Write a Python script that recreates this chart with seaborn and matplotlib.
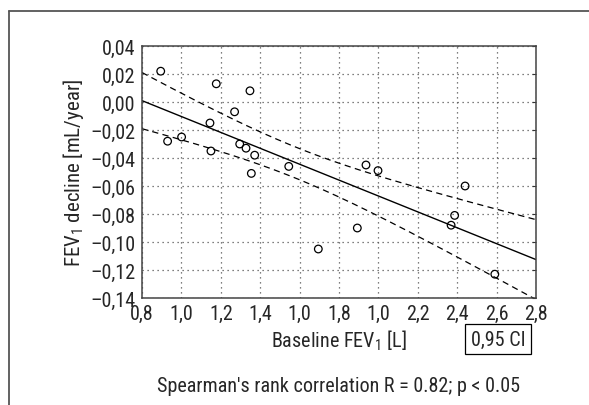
import numpy as np
import pandas as pd
import matplotlib
matplotlib.use("Agg")
import matplotlib.pyplot as plt
import seaborn as sns
from matplotlib.lines import Line2D
from matplotlib import font_manager

# data
baseline_fev1 = [0.895, 0.930, 1.001, 1.177, 1.145, 1.150, 1.270, 1.348, 1.296, 1.328, 1.372,
                 1.355, 1.545, 1.937, 1.998, 2.440, 2.387, 2.369, 1.893, 1.695, 2.591]
fev1_decline = [0.022, -0.028, -0.025, 0.013, -0.015, -0.035, -0.007, 0.008, -0.030, -0.033, -0.038,
                -0.051, -0.046, -0.045, -0.049, -0.060, -0.081, -0.088, -0.090, -0.105, -0.123]

x_ticks = [0.8, 1.0, 1.2, 1.4, 1.6, 1.8, 2.0, 2.2, 2.4, 2.6, 2.8]
x_ticklabels = ["0,8", "1,0", "1,2", "1,4", "1,0", "1,8", "1,0", "2,2", "2,4", "2,6", "2,8"]
y_ticks = [0.04, 0.02, 0.00, -0.02, -0.04, -0.06, -0.08, -0.10, -0.12, -0.14]
y_ticklabels = ["0,04", "0,02", "0,00", "\u20130,02", "\u20130,04", "\u20130,06", "\u20130,08",
                "\u20130,10", "\u20130,12", "\u20130,14"]

df = pd.DataFrame({"baseline": baseline_fev1, "decline": fev1_decline})

# linear fit + 95% confidence band of the mean
x = df["baseline"].values
y = df["decline"].values
slope, icpt = np.polyfit(x, y, 1)
n = len(x)
resid = y - (icpt + slope * x)
s = np.sqrt((resid ** 2).sum() / (n - 2))
sxx = ((x - x.mean()) ** 2).sum()
t_crit = 2.093  # t(0.975, df=19)
xs = np.linspace(0.8, 2.8, 200)
fit = icpt + slope * xs
half = t_crit * s * np.sqrt(1 / n + (xs - x.mean()) ** 2 / sxx)
band = pd.DataFrame({"x": xs, "fit": fit, "lo": fit - half, "hi": fit + half})

sns.set_style("white")

# pick a condensed face if one is installed, otherwise plain DejaVu Sans
fam, stretch, scale = "DejaVu Sans", "normal", 0.85
names = {f.name for f in font_manager.fontManager.ttflist}
cond_files = [f for f in font_manager.fontManager.ttflist
              if "condensed" in f.fname.lower() or "narrow" in f.fname.lower()]
for cand in ["Liberation Sans Narrow", "Roboto Condensed", "Open Sans Condensed"]:
    if cand in names:
        fam, scale = cand, 1.0
        break
else:
    for f in cond_files:
        if f.name in ("DejaVu Sans", "Roboto", "Open Sans", "Noto Sans", "Liberation Sans") \
                and f.weight in (400, "normal", "regular") and f.style == "normal":
            fam, stretch, scale = f.name, "condensed", 1.0
            break
plt.rcParams["font.family"] = [fam, "DejaVu Sans"]
plt.rcParams["font.stretch"] = stretch
plt.rcParams["mathtext.fontset"] = "custom"
plt.rcParams["mathtext.rm"] = fam
plt.rcParams["mathtext.it"] = fam

fs = 14.5 * scale

fig = plt.figure(figsize=(5.89, 4.06), dpi=100)
ax = fig.add_axes([142 / 589, 1 - 299 / 406, 394 / 589, 252 / 406])

sns.lineplot(data=band, x="x", y="fit", color="black", lw=1.0, ax=ax)
sns.lineplot(data=band, x="x", y="hi", color="black", lw=0.9, ax=ax)
sns.lineplot(data=band, x="x", y="lo", color="black", lw=0.9, ax=ax)
for ln in ax.lines[1:]:
    ln.set_linestyle((0, (5, 3.5)))
sns.scatterplot(data=df, x="baseline", y="decline", marker="o", s=30,
                facecolor="none", edgecolor="black", linewidth=0.9, ax=ax, zorder=5)

ax.set_xlim(0.8, 2.8)
ax.set_ylim(-0.14, 0.04)
ax.set_xticks(x_ticks)
ax.set_xticklabels(x_ticklabels)
ax.set_yticks(y_ticks)
ax.set_yticklabels(y_ticklabels)
ax.tick_params(labelsize=fs, direction="in", length=3, width=0.8, color="#333333",
               right=True, top=False, pad=5)
ax.tick_params(axis="x", pad=4)
ax.grid(True, linestyle=(0, (1, 3)), color="#555555", lw=0.9)
for sp in ax.spines.values():
    sp.set_color("#444444")
    sp.set_linewidth(1.1)

ax.set_ylabel("FEV$_1$ decline [mL/year]", fontsize=15, va="center")
ax.yaxis.set_label_coords(-0.175, 0.5)
ax.set_xlabel("Baseline FEV$_1$ [L]", fontsize=fs, va="center")
ax.xaxis.set_label_coords(0.5, -0.167)

ax.text((498 - 142) / 394, (299 - 340) / 252, "0,95 CI", transform=ax.transAxes,
        ha="center", va="center", fontsize=fs,
        bbox=dict(boxstyle="square,pad=0.28", facecolor="white", edgecolor="black", lw=0.9))

fig.text(339 / 589, 1 - 387 / 406, "Spearman's rank correlation R = 0.82; p < 0.05",
         ha="center", va="center", fontsize=14.5 * scale)

# outer frame (open at right and bottom)
fig.add_artist(Line2D([9 / 589, 9 / 589], [0, 1 - 11.5 / 406], color="#555555", lw=1.3))
fig.add_artist(Line2D([9 / 589, 1], [1 - 11.5 / 406, 1 - 11.5 / 406], color="#555555", lw=1.3))

fig.savefig("out.png", dpi=100)
